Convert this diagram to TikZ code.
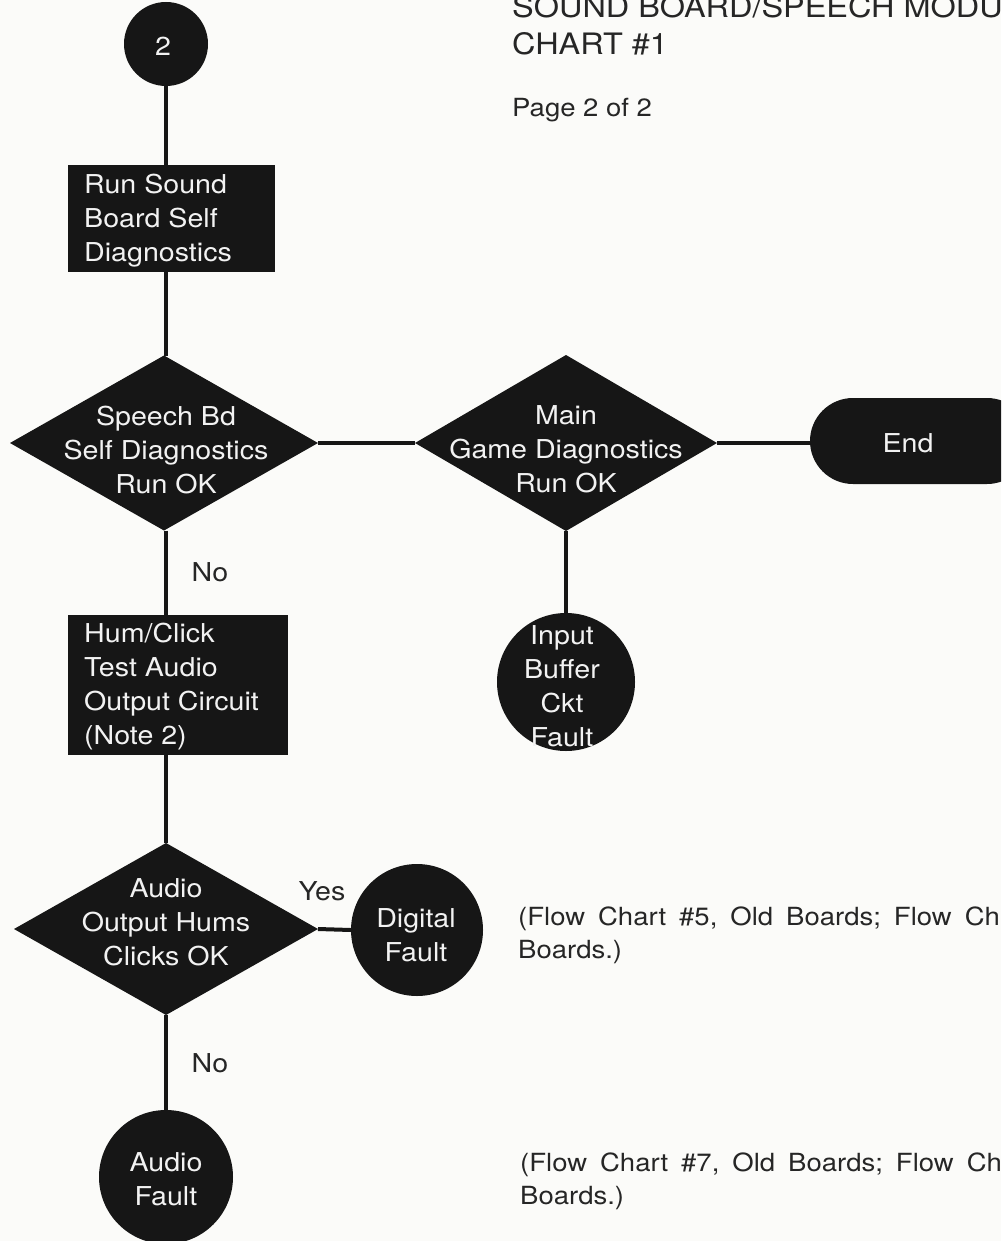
\documentclass[tikz,border=0pt]{standalone}
\usepackage{fontspec}
\setmainfont{TeX Gyre Heros}[FakeStretch=1.1]
\usetikzlibrary{shapes.geometric}
\definecolor{ink}{HTML}{161616}
\definecolor{paper}{HTML}{FBFBF9}
\definecolor{printtext}{HTML}{262626}
\definecolor{onink}{HTML}{F2F2F2}
\newcommand{\notefont}{\fontsize{25}{33}\selectfont\spaceskip=13pt\relax}
\begin{document}
\begin{tikzpicture}[x=1pt,y=-1pt,
  blk/.style={fill=ink, draw=none, inner sep=0pt, outer sep=0pt},
  boxshape/.style={blk, rectangle, anchor=north west},
  decision/.style={blk, diamond, minimum width=#1},
  disc/.style={blk, circle, minimum size=#1},
  wire/.style={draw=ink, line width=4pt},
  intext/.style={text=onink, inner sep=0pt, font=\fontsize{26}{34}\selectfont},
  freetext/.style={text=printtext, inner sep=0pt},
  answer/.style={text=printtext, inner sep=0pt, font=\fontsize{26}{34}\selectfont}
]
\useasboundingbox (0,0) rectangle (1001,1241);
\fill[paper] (0,0) rectangle (1001,1241);
\clip (0,0) rectangle (1001,1241);

% header
\node[freetext, anchor=base west, font=\fontsize{29.5}{38}\selectfont] (title1) at (512,18) {SOUND BOARD/SPEECH MODU};
\node[freetext, anchor=base west, font=\fontsize{29.5}{38}\selectfont] (title2) at (512,55) {CHART \#1};
\node[freetext, anchor=base west, font=\fontsize{25}{33}\selectfont] (page) at (512,117) {Page 2 of 2};

% shapes
\node[disc=84pt] (start) at (166,44) {};
\node[boxshape, minimum width=207pt, minimum height=107pt] (selftest) at (68,165) {};
\node[decision=308pt, minimum height=175pt] (speechok) at (164,443) {};
\node[decision=302pt, minimum height=176pt] (mainok) at (566,443) {};
\node[blk, rectangle, rounded corners=43pt, minimum width=220pt, minimum height=86pt] (finish) at (920,441) {};
\node[disc=138pt] (inbuf) at (566,682) {};
\node[boxshape, minimum width=220pt, minimum height=140pt] (humclick) at (68,615) {};
\node[decision=304pt, minimum height=172pt] (audiook) at (166,929) {};
\node[disc=132pt] (digital) at (417,930) {};
\node[disc=134pt] (audiofault) at (166,1177) {};

% connectors
\draw[wire] (start.south) -- (start.south |- selftest.north);
\draw[wire] (start.south |- selftest.south) -- (start.south |- speechok.north);
\draw[wire] (speechok.east) -- (mainok.west);
\draw[wire] (mainok.east) -- (mainok.east -| finish.west);
\draw[wire] (mainok.south) -- (inbuf.north);
\draw[wire] (start.south |- speechok.south) -- (start.south |- humclick.north);
\draw[wire] (audiook.north |- humclick.south) -- (audiook.north);
\draw[wire] (audiook.east) -- (digital.west);
\draw[wire] (audiook.south) -- (audiofault.north);

% texts on shapes
\node[intext] (t-start) at (163,46) {2};
\node[intext, anchor=west, align=left] (t-selftest) at (84,221) {Run Sound\\Board Self\\Diagnostics};
\node[intext, align=center] (t-speechok) at (166,450) {Speech Bd\\Self Diagnostics\\Run OK};
\node[intext, align=center] (t-mainok) at (566,449) {Main\\Game Diagnostics\\Run OK};
\node[intext] (t-finish) at (908,443) {End};
\node[intext, align=center] (t-inbuf) at (562,686) {Input\\Buffer\\Ckt\\Fault};
\node[intext, anchor=west, align=left] (t-humclick) at (84,687) {Hum/Click\\Test Audio\\Output Circuit\\(Note 2)};
\node[intext, align=center] (t-audiook) at (166,922) {Audio\\Output Hums\\Clicks OK};
\node[intext, align=center] (t-digital) at (416,935) {Digital\\Fault};
\node[intext, align=center] (t-audiofault) at (166,1179) {Audio\\Fault};

% branch answers
\node[answer] (no1) at (210,572) {No};
\node[answer] (yes1) at (322,891) {Yes};
\node[answer] (no2) at (210,1063) {No};

% notes beside the fault circles
\node[freetext, anchor=north west, align=left, font=\notefont] (note1) at (518,907) {(Flow Chart \#5, Old Boards; Flow Ch\\Boards.)};
\node[freetext, anchor=north west, align=left, font=\notefont] (note2) at (520,1153) {(Flow Chart \#7, Old Boards; Flow Ch\\Boards.)};
\end{tikzpicture}
\end{document}
